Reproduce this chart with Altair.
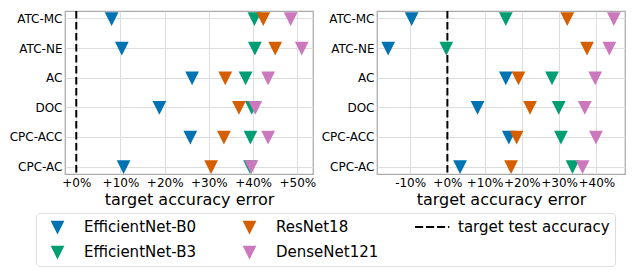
import altair as alt
import pandas as pd

methods = ["ATC-MC", "ATC-NE", "AC", "DOC", "CPC-ACC", "CPC-AC"]
models = ["EfficientNet-B0", "EfficientNet-B3", "ResNet18", "DenseNet121"]

# left panel: target accuracy error (%)
left_b0 = [8.0, 10.3, 26.2, 18.8, 25.8, 10.7]
left_b3 = [40.3, 40.4, 38.3, 39.7, 39.4, 39.3]
left_r18 = [42.3, 45.0, 33.7, 36.8, 33.4, 30.5]
left_d121 = [48.5, 51.0, 43.4, 40.5, 43.4, 39.6]

# right panel
right_b0 = [-9.6, -15.9, 15.7, 8.1, 16.5, 3.4]
right_b3 = [15.7, -0.3, 28.1, 29.9, 30.5, 33.6]
right_r18 = [32.2, 37.5, 19.1, 22.2, 18.6, 17.1]
right_d121 = [44.7, 43.5, 39.7, 36.9, 39.9, 36.3]

left_ticks = [0, 10, 20, 30, 40, 50]
right_ticks = [-10, 0, 10, 20, 30, 40]
left_domain = [-2.55, 53.55]
right_domain = [-18.9, 47.7]

legend_order = models + ["target test accuracy"]
legend_colors = ["#0173B2", "#029E73", "#D55E00", "#CC78BC", "#000000"]
# marker glyphs drawn inside a wide handle box (like matplotlib legend handles)
tri = "M0,0.34L-0.34,-0.34L0.34,-0.34Z"
dash = "M-1.06,0H-0.54M-0.35,0H0.17M0.36,0H0.88M1.07,0H1.15"
legend_shapes = [tri, tri, tri, tri, dash]

cscale = alt.Scale(domain=legend_order, range=legend_colors)
sscale = alt.Scale(domain=legend_order, range=legend_shapes)

leg = alt.Legend(
    title=None, orient="none", legendX=-29, legendY=202, columns=3,
    symbolSize=961, symbolStrokeWidth=2, symbolOpacity=1, clipHeight=18,
    labelFontSize=15, labelFont="DejaVu Sans", labelColor="black",
    labelOffset=10, labelLimit=400, columnPadding=36, rowPadding=7,
    padding=5, strokeColor="#dddddd", cornerRadius=3, fillColor="white",
)


def panel(series, domain, ticks):
    rows = []
    for m, vals in zip(models, series):
        for meth, v in zip(methods, vals):
            rows.append({"method": meth, "model": m, "err": v})
    df = pd.DataFrame(rows)
    xs = alt.Scale(domain=domain, nice=False, zero=False)
    xax = alt.Axis(
        values=ticks,
        labelExpr="(datum.value >= 0 ? '+' : '') + datum.value + '%'",
        title="target accuracy error", labelFlush=False, labelOverlap=False,
    )
    rule = alt.Chart(pd.DataFrame({"err": [0]})).mark_rule(
        color="black", strokeDash=[7.5, 3.5], strokeWidth=2
    ).encode(x=alt.X("err:Q", scale=xs, axis=xax))
    pts = alt.Chart(df).mark_point(filled=True, size=961, opacity=1).encode(
        x=alt.X("err:Q", scale=xs, axis=xax),
        y=alt.Y("method:N", sort=methods,
                scale=alt.Scale(domain=methods, padding=0.25),
                axis=alt.Axis(title=None)),
        color=alt.Color("model:N", scale=cscale, legend=leg),
        stroke=alt.Stroke("model:N", scale=cscale, legend=leg),
        shape=alt.Shape("model:N", scale=sscale, legend=leg),
    )
    return alt.layer(rule, pts).properties(width=248, height=163)


left = panel([left_b0, left_b3, left_r18, left_d121], left_domain, left_ticks)
right = panel([right_b0, right_b3, right_r18, right_d121], right_domain, right_ticks)

chart = alt.hconcat(left, right, spacing=3).resolve_scale(
    x="independent", y="independent", color="shared", shape="shared", stroke="shared"
).properties(padding=0).configure(font="DejaVu Sans").configure_view(
    stroke="#aaaaaa", strokeWidth=1.25
).configure_axis(
    grid=True, gridColor="#dddddd", gridWidth=1, domain=False, ticks=False,
    labelFont="DejaVu Sans", labelFontSize=12, labelColor="black", labelPadding=3,
    titleFont="DejaVu Sans", titleFontSize=16, titleFontWeight="normal",
    titleColor="black", titlePadding=3,
)

chart.save("out.html", embed_options={"renderer": "svg", "actions": False})
